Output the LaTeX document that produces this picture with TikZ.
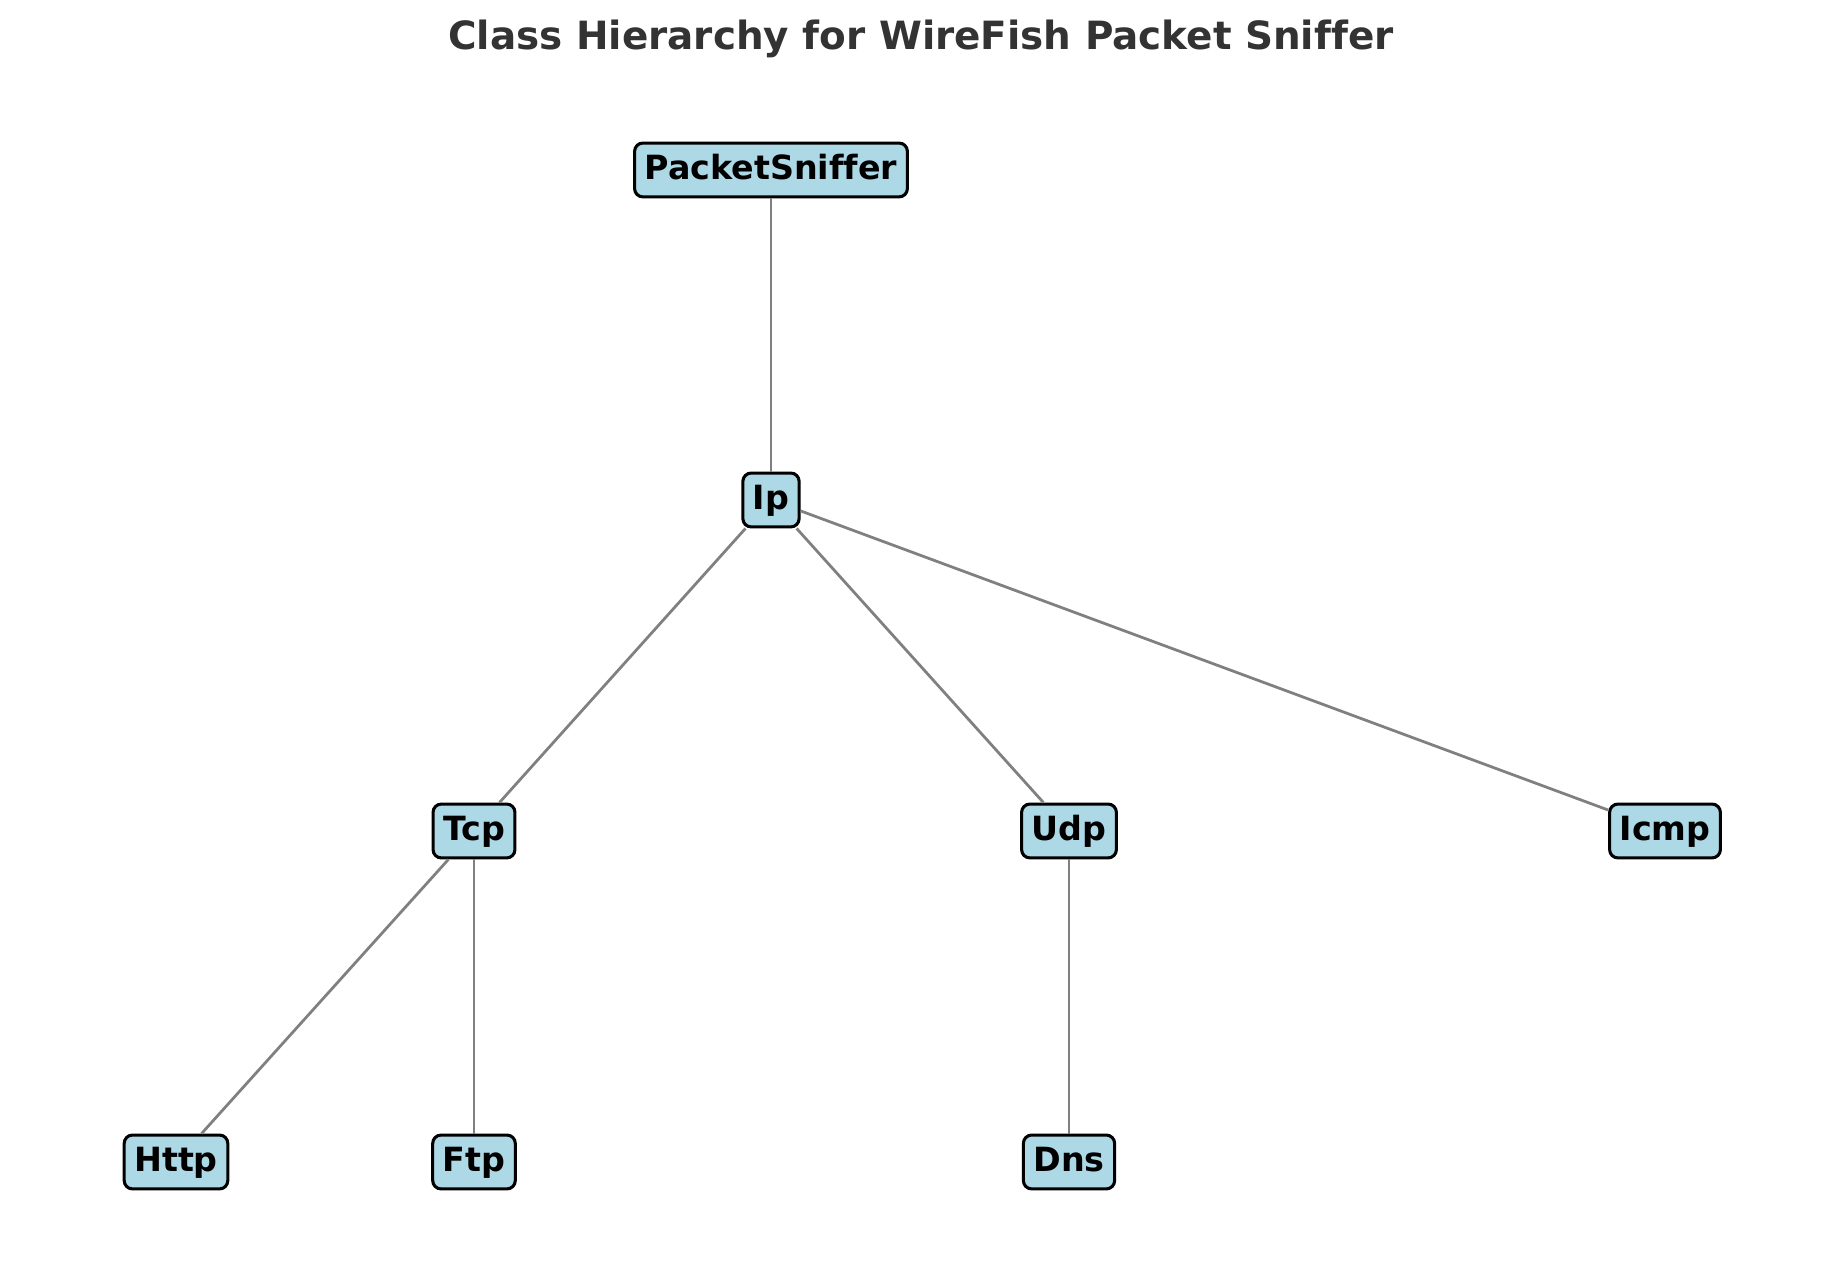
\documentclass[tikz,border=0pt]{standalone}
\usepackage{fontspec}
\setmainfont[Ligatures=NoCommon]{DejaVu Sans}
\usetikzlibrary{calc}
\definecolor{boxblue}{HTML}{ADD8E6}
\definecolor{titlegray}{HTML}{333333}
\tikzset{
 cls/.style={draw=black, line width=1.1bp, fill=boxblue, rounded corners=3bp, font=\fontsize{12bp}{14bp}\selectfont\bfseries, inner xsep=3.6bp, inner ysep=0pt, minimum height=19.4bp, text height=9bp, text depth=2.4bp},
 edge/.style={draw=gray, line width=1bp}
}

\begin{document}
\begin{tikzpicture} [x=0.36bp, y=0.36bp]
\useasboundingbox (0,0) rectangle (1839,1286);
\node[anchor=base, text=titlegray, font=\fontsize{14bp}{16bp}\selectfont\bfseries] (title) at (921,1236) {Class Hierarchy for WireFish Packet Sniffer};
\foreach \n/\x/\y in {PacketSniffer/771/1116, Ip/771/786, Tcp/474/455, Udp/1069/455, Icmp/1665/455, Http/176/124, Ftp/474/124, Dns/1069/124} {
 \node[cls] (\n) at (\x,\y) {\n};
}
\foreach \a/\b in {PacketSniffer/Ip, Ip/Tcp, Ip/Udp, Ip/Icmp, Tcp/Http, Tcp/Ftp, Udp/Dns} {
 \draw[edge] (\a) -- (\b);
}
\end{tikzpicture}
\end{document}
